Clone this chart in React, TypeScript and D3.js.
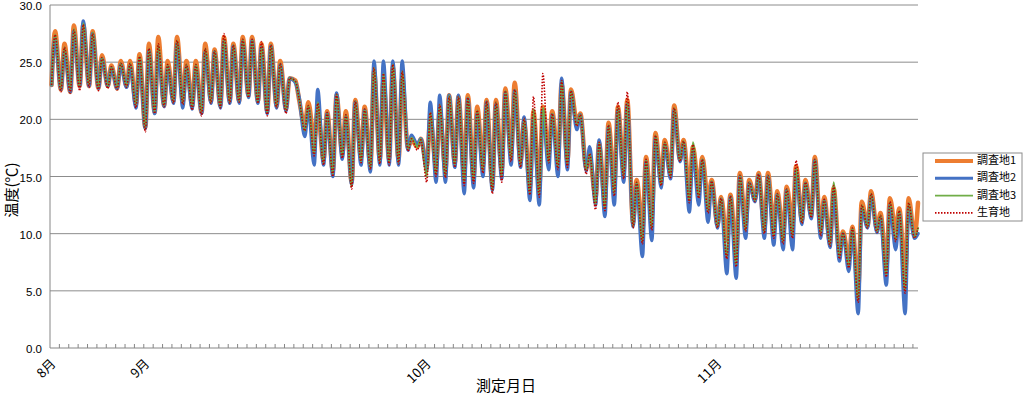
import React from "react";
import * as d3 from "d3";

// daily lows (about 4:00) and highs (about 13:00), from Aug 22
const site1Low = [
  23.0, 22.6, 22.4, 22.9, 22.9, 22.7, 22.9, 22.7, 22.9, 21.3,
  19.3, 20.6, 21.2, 21.6, 21.6, 21.2, 20.6, 21.6, 21.2, 21.6,
  21.6, 22.1, 21.6, 20.7, 21.2, 20.9, 23.4, 19.5, 18.2, 16.5,
  15.5, 17.0, 14.5, 16.7, 16.0, 16.5, 16.5, 16.5, 17.5, 17.6,
  15.9, 15.9, 15.6, 16.2, 15.3, 15.0, 16.0, 14.3, 15.6, 17.0,
  16.3, 14.1, 14.1, 17.0, 16.5, 16.4, 19.8, 15.8, 13.2, 12.9,
  14.3, 15.5, 11.0, 10.3, 11.5, 14.7, 15.2, 16.5, 13.8, 14.0,
  12.9, 10.8, 9.4, 8.3, 10.9, 13.0, 10.6, 10.6, 10.0, 10.9,
  11.2, 11.6, 10.3, 9.2, 8.3, 7.8, 5.1, 10.7, 10.4, 7.1,
  10.3, 6.5, 9.8,
];
const site1High = [
  27.7, 26.6, 28.2, 28.3, 27.7, 25.6, 24.7, 25.1, 25.1, 25.7,
  26.6, 27.2, 25.1, 27.2, 25.1, 25.1, 26.6, 26.1, 27.2, 26.6,
  27.2, 27.2, 26.6, 26.6, 25.1, 23.6, 21.8, 21.5, 20.8, 20.7,
  22.1, 20.7, 21.7, 21.1, 24.2, 23.3, 24.6, 23.6, 18.2, 18.3,
  20.1, 20.8, 22.1, 22.0, 22.1, 21.1, 21.7, 21.7, 22.7, 23.2,
  19.8, 20.7, 21.1, 20.7, 23.1, 22.6, 20.5, 16.6, 17.9, 19.7,
  21.1, 21.7, 14.7, 16.7, 18.8, 18.2, 21.2, 18.2, 17.6, 16.7,
  14.7, 13.2, 13.4, 15.3, 14.7, 15.3, 15.3, 13.7, 14.1, 15.9,
  14.7, 16.7, 13.2, 14.0, 10.2, 10.6, 12.8, 13.7, 11.8, 13.1,
  12.2, 13.1, 12.7,
];
const site2Low = [
  23.0, 22.6, 22.4, 22.9, 22.9, 22.7, 22.9, 22.7, 22.8, 21.0,
  19.2, 20.5, 21.1, 21.4, 21.0, 20.9, 20.5, 21.4, 21.0, 21.4,
  21.4, 21.9, 21.4, 20.5, 21.0, 20.7, 23.2, 18.5, 16.0, 16.0,
  15.0, 16.5, 14.3, 16.0, 15.4, 16.0, 16.0, 16.0, 17.3, 17.8,
  15.5, 14.5, 14.5, 15.8, 13.5, 14.0, 15.0, 13.8, 14.8, 16.0,
  15.8, 12.9, 12.5, 15.6, 15.0, 15.6, 19.1, 15.5, 12.5, 11.5,
  12.5, 14.5, 10.6, 8.0, 9.4, 14.0, 14.8, 16.3, 11.9, 12.5,
  11.0, 10.5, 6.5, 6.1, 9.6, 12.8, 9.6, 9.0, 8.6, 8.6,
  10.8, 11.3, 9.6, 8.8, 7.6, 6.7, 3.0, 10.5, 10.1, 5.5,
  8.6, 3.0, 9.6,
];
const site2High = [
  27.1, 26.0, 27.7, 28.6, 27.5, 25.3, 24.5, 24.8, 24.7, 25.2,
  26.0, 25.9, 24.6, 26.6, 24.6, 24.6, 25.9, 25.9, 26.8, 26.4,
  26.8, 26.9, 26.3, 26.4, 24.8, 23.6, 22.0, 21.0, 22.6, 20.5,
  22.3, 20.2, 21.5, 20.8, 25.1, 25.1, 25.1, 25.1, 18.6, 18.3,
  21.5, 22.1, 22.1, 22.1, 21.8, 20.5, 21.5, 21.3, 22.3, 22.5,
  20.2, 20.2, 20.8, 20.4, 23.6, 22.4, 20.4, 17.6, 18.2, 19.3,
  20.8, 21.3, 14.3, 16.3, 18.4, 17.8, 20.8, 17.9, 17.3, 16.4,
  14.5, 13.0, 13.2, 15.0, 14.4, 15.1, 15.0, 13.4, 13.8, 15.5,
  14.4, 16.4, 12.9, 13.7, 10.0, 10.3, 12.2, 13.3, 11.4, 12.5,
  11.8, 12.3, 10.0,
];
const site3Low = [
  23.0, 22.6, 22.5, 22.9, 23.0, 22.8, 22.9, 22.8, 22.9, 21.2,
  19.2, 20.6, 21.2, 21.5, 21.4, 21.1, 20.6, 21.5, 21.1, 21.5,
  21.6, 22.0, 21.5, 20.6, 21.1, 20.8, 23.3, 19.0, 17.0, 16.2,
  15.2, 16.8, 14.1, 16.3, 15.7, 16.2, 16.2, 16.2, 17.4, 17.6,
  15.0, 15.2, 15.0, 16.0, 14.5, 14.6, 15.5, 13.8, 15.0, 16.5,
  16.0, 13.6, 13.4, 16.3, 15.8, 16.0, 19.5, 15.6, 12.6, 12.2,
  13.5, 15.0, 10.6, 9.3, 10.5, 14.3, 15.0, 16.4, 12.9, 13.3,
  12.0, 10.6, 8.0, 7.3, 10.3, 12.9, 10.1, 9.8, 9.3, 9.8,
  11.0, 11.5, 10.0, 9.0, 8.0, 7.2, 4.2, 10.6, 10.2, 6.4,
  9.5, 5.0, 9.7,
];
const site3High = [
  27.4, 26.3, 27.9, 28.4, 27.6, 25.4, 24.6, 24.9, 24.9, 25.5,
  26.2, 26.5, 24.8, 26.9, 24.8, 24.8, 26.2, 26.0, 27.0, 26.5,
  27.0, 27.0, 26.4, 26.5, 24.9, 23.6, 21.9, 21.2, 21.5, 20.6,
  22.2, 20.4, 21.6, 20.9, 24.5, 24.0, 24.8, 24.2, 18.4, 18.3,
  20.6, 21.3, 22.1, 22.0, 21.9, 20.8, 21.6, 21.5, 22.5, 22.6,
  20.0, 20.9, 21.0, 20.5, 23.3, 22.5, 20.4, 17.0, 18.0, 19.5,
  21.0, 21.5, 14.5, 16.5, 18.6, 18.0, 21.0, 18.1, 18.0, 16.5,
  14.6, 13.1, 13.3, 15.1, 14.5, 15.2, 15.1, 13.5, 13.9, 15.7,
  14.5, 16.5, 13.0, 14.5, 10.1, 10.5, 12.5, 13.5, 11.6, 12.8,
  12.0, 12.7, 10.5,
];
const habitatLow = [
  23.0, 22.4, 22.3, 22.5, 22.8, 22.5, 22.7, 22.6, 22.8, 21.0,
  18.9, 20.5, 21.1, 21.4, 21.3, 20.8, 20.3, 21.4, 21.0, 21.4,
  21.5, 21.9, 21.4, 20.3, 21.0, 20.5, 23.3, 19.0, 16.8, 16.0,
  15.0, 16.6, 13.9, 16.2, 15.6, 16.1, 16.0, 16.1, 17.2, 17.3,
  14.5, 15.0, 14.9, 15.8, 14.2, 14.4, 15.3, 13.5, 14.5, 16.3,
  15.8, 13.4, 13.2, 16.2, 15.6, 15.8, 19.4, 15.2, 12.1, 12.0,
  13.3, 14.8, 10.5, 9.1, 10.3, 14.2, 14.9, 16.3, 12.7, 13.1,
  11.8, 10.5, 7.8, 7.1, 10.2, 12.8, 10.0, 9.6, 9.1, 9.6,
  10.9, 11.4, 9.8, 8.9, 7.8, 7.0, 4.0, 10.5, 10.1, 6.2,
  9.3, 4.8, 9.6,
];
const habitatHigh = [
  27.4, 26.3, 27.8, 28.3, 27.5, 25.4, 24.6, 24.9, 24.9, 25.5,
  26.2, 26.6, 24.8, 26.9, 24.8, 24.8, 26.2, 26.0, 27.5, 26.5,
  27.0, 27.0, 26.8, 26.5, 24.9, 23.6, 21.9, 21.2, 21.4, 20.6,
  22.2, 20.4, 21.6, 20.9, 24.5, 24.0, 24.8, 24.2, 18.3, 18.2,
  20.6, 21.3, 22.0, 22.0, 21.9, 20.8, 21.6, 21.5, 22.5, 22.6,
  20.1, 22.0, 24.0, 20.5, 23.4, 22.5, 20.4, 17.0, 18.0, 19.5,
  21.5, 22.4, 14.5, 16.5, 18.6, 18.0, 21.0, 18.1, 17.8, 16.5,
  14.6, 13.1, 13.3, 15.1, 14.5, 15.2, 15.1, 13.5, 13.9, 16.4,
  14.5, 16.5, 13.0, 14.2, 10.1, 10.5, 12.5, 13.5, 11.6, 12.8,
  12.0, 12.7, 10.5,
];

const monthLabels = ["8月", "9月", "10月", "11月"];
const monthDates = [
  new Date(Date.UTC(2015, 7, 22)),
  new Date(Date.UTC(2015, 8, 1)),
  new Date(Date.UTC(2015, 9, 1)),
  new Date(Date.UTC(2015, 10, 1)),
];
const yTicks = [0, 5, 10, 15, 20, 25, 30];

const seriesNames = ["調査地1", "調査地2", "調査地3", "生育地"];
const seriesLows = [site1Low, site2Low, site3Low, habitatLow];
const seriesHighs = [site1High, site2High, site3High, habitatHigh];
const seriesStyle = [
  { color: "#ED7D31", width: 4.5, dash: "" },
  { color: "#4472C4", width: 3.5, dash: "" },
  { color: "#70AD47", width: 2, dash: "" },
  { color: "#C00000", width: 1.6, dash: "1.5,1.5" },
];

const FONT = "'Noto Sans CJK JP', 'DejaVu Sans', sans-serif";
const left = 50, right = 918, top = 5, bottom = 348;
const start = monthDates[0];
const HOUR = 3600 * 1000;
const end = new Date(start.getTime() + (92 * 24 + 13) * HOUR);

export default function App() {
  const x = d3.scaleUtc().domain([start, end]).range([left, right]);
  const y = d3.scaleLinear().domain([0, 30]).range([bottom, top]);

  const line = d3
    .line<{ t: Date; v: number }>()
    .x((d) => x(d.t))
    .y((d) => y(d.v))
    .curve(d3.curveMonotoneX);

  const paths = seriesLows.map((lows, s) => {
    const highs = seriesHighs[s];
    const pts = lows.flatMap((lo, i) => [
      { t: new Date(start.getTime() + (i * 24 + 4) * HOUR), v: lo },
      { t: new Date(start.getTime() + (i * 24 + 13) * HOUR), v: highs[i] },
    ]);
    return line(pts) || "";
  });

  const dayTicks = d3.utcDay.range(d3.utcDay.offset(start, 1), end);
  const fmt = d3.format(".1f");

  return (
    <svg
      width={1024}
      height={396}
      style={{ position: "absolute", left: 0, top: 0, background: "#fff" }}
      fontFamily={FONT}
    >
      <rect x={0} y={0} width={1024} height={396} fill="#fff" />
      {yTicks.map((t) => (
        <g key={t}>
          {t > 0 && (
            <line x1={left} x2={right} y1={y(t)} y2={y(t)} stroke="#8c8c8c" strokeWidth={1} />
          )}
          <text
            x={42}
            y={y(t) + 5}
            fontSize={11.5}
            fontFamily="'Liberation Sans', Arial, sans-serif"
            textAnchor="end"
            fill="#000"
          >
            {fmt(t)}
          </text>
        </g>
      ))}
      <line x1={left} x2={left} y1={top} y2={bottom} stroke="#868686" />
      <line x1={left} x2={right} y1={bottom} y2={bottom} stroke="#868686" />
      {dayTicks.map((d, i) => (
        <line key={i} x1={x(d)} x2={x(d)} y1={bottom} y2={bottom - 4} stroke="#868686" />
      ))}
      {paths.map((p, s) => (
        <path
          key={s}
          d={p}
          fill="none"
          stroke={seriesStyle[s].color}
          strokeWidth={seriesStyle[s].width}
          strokeDasharray={seriesStyle[s].dash || undefined}
          strokeLinejoin="round"
          strokeLinecap={seriesStyle[s].dash ? "butt" : "round"}
        />
      ))}
      {monthLabels.map((m, i) => (
        <text
          key={m}
          transform={`translate(${x(monthDates[i]) + 4},${bottom + 14}) rotate(-45)`}
          fontSize={13}
          textAnchor="end"
          dominantBaseline="middle"
        >
          {m}
        </text>
      ))}
      <text x={506} y={391} fontSize={15} textAnchor="middle">
        測定月日
      </text>
      <text transform={`translate(13,190) rotate(-90)`} fontSize={15} textAnchor="middle" dominantBaseline="middle">
        温度(℃)
      </text>
      <g>
        <rect x={923} y={153} width={99} height={68} fill="#fff" stroke="#8c8c8c" />
        {seriesNames.map((n, s) => (
          <g key={n} transform={`translate(0,${161 + s * 17.3})`}>
            <line
              x1={935}
              x2={973}
              y1={0}
              y2={0}
              stroke={seriesStyle[s].color}
              strokeWidth={s === 0 ? 4 : s === 1 ? 3 : 1.6}
              strokeDasharray={seriesStyle[s].dash || undefined}
            />
            <text x={977} y={0} fontSize={11} dominantBaseline="middle">
              {n}
            </text>
          </g>
        ))}
      </g>
    </svg>
  );
}
